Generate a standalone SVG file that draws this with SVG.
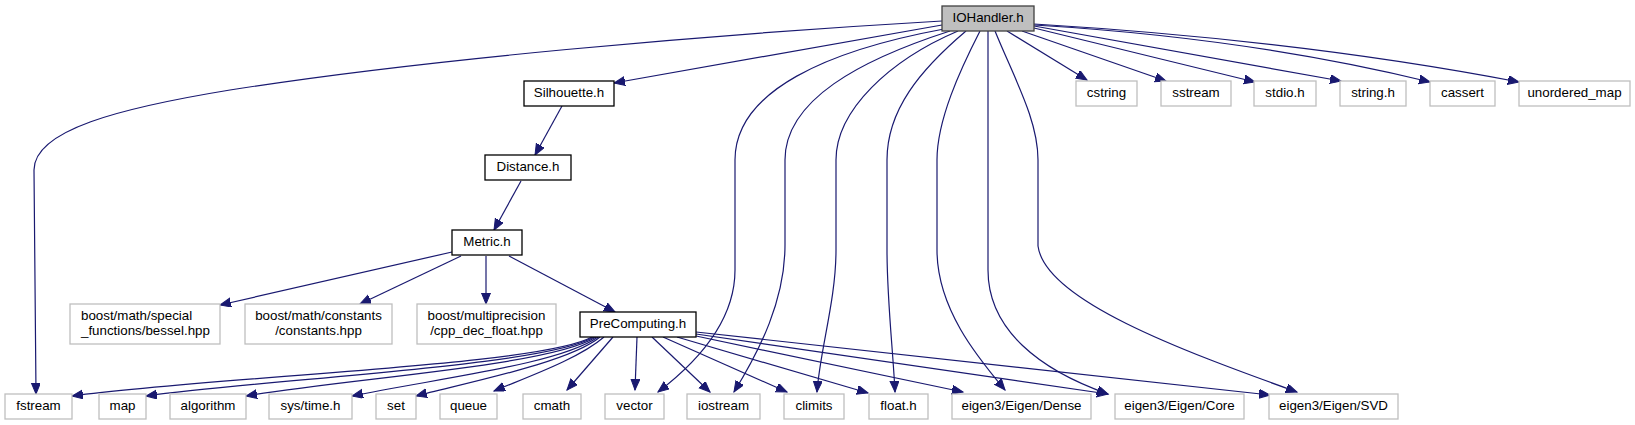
<svg xmlns="http://www.w3.org/2000/svg" width="1635" height="425" viewBox="0 0 1635 425">
<style>
text{font-family:"Liberation Sans",Arial,Helvetica,sans-serif;font-size:13.33px;fill:#000;text-anchor:middle}
.root rect{fill:#bfbfbf;stroke:#404040;stroke-width:1.3}
.int rect{fill:#fff;stroke:#000;stroke-width:1.3}
.ext rect{fill:#fff;stroke:#bfbfbf;stroke-width:1.3}
#edges path{fill:none;stroke:#191970;stroke-width:1.2;marker-end:url(#arr)}
</style>
<defs>
<marker id="arr" markerUnits="userSpaceOnUse" markerWidth="14" markerHeight="12" refX="11" refY="4.5" orient="auto">
<path d="M0,0 L11,4.5 L0,9 z" fill="#191970" stroke="#191970" stroke-width="1"/>
</marker>
</defs>
<rect x="0" y="0" width="1635" height="425" fill="#fff"/>
<g id="edges">
<path d="M942,25 L614,83"/>
<path d="M942,21 C700,35 420,60 230,90 C120,108 34,130 34,170 L36,394"/>
<path d="M1007,31 L1087,80"/>
<path d="M1022,31 L1166,81"/>
<path d="M1034,28 L1255,82"/>
<path d="M1034,26 L1341,81"/>
<path d="M1034,25 Q1250,38 1430,82"/>
<path d="M1034,24 Q1300,40 1519,82"/>
<path d="M944,29 C830,50 735,90 735,160 L735,270 C735,320 700,360 658,392"/>
<path d="M950,31 C860,60 785,100 785,160 L785,245 C785,300 760,350 734,392"/>
<path d="M958,31 C890,60 836,110 836,160 L836,250 C836,300 820,350 817,392"/>
<path d="M966,31 C920,70 887,110 887,160 L887,250 C887,300 893,350 895,392"/>
<path d="M980,31 C960,70 937,120 937,160 L937,250 C937,310 980,360 1005,390"/>
<path d="M988,31 L988,270 C988,330 1040,370 1108,394"/>
<path d="M995,31 C1015,80 1038,120 1038,160 L1038,246 C1045,300 1180,350 1297,392"/>
<path d="M562,106 L535,155"/>
<path d="M521,181 L494,230"/>
<path d="M452,252 L220,305"/>
<path d="M461,256 L360,304"/>
<path d="M486,256 L486,304"/>
<path d="M509,256 L615,312"/>
<path d="M592,337 C540,366 220,376 72,396"/>
<path d="M594,337 C545,366 280,378 146,396"/>
<path d="M596,337 C550,366 350,378 246,396"/>
<path d="M598,337 C560,364 440,378 352,396"/>
<path d="M600,337 C570,362 470,382 416,396"/>
<path d="M604,337 C580,358 530,376 494,391"/>
<path d="M613,337 L567,390"/>
<path d="M637,337 L635,390"/>
<path d="M652,337 L710,392"/>
<path d="M663,337 L787,392"/>
<path d="M677,337 L868,393"/>
<path d="M696,336 L963,392"/>
<path d="M696,334 L1108,394"/>
<path d="M696,332 L1270,395"/>
</g>
<g id="n_IOHandler" class="root"><rect x="942" y="6" width="92" height="25"/><text x="988" y="22">IOHandler.h</text></g>
<g id="n_Silhouette" class="int"><rect x="524" y="81" width="90" height="25"/><text x="569" y="97">Silhouette.h</text></g>
<g id="n_Distance" class="int"><rect x="485" y="155" width="86" height="25"/><text x="528" y="171">Distance.h</text></g>
<g id="n_Metric" class="int"><rect x="452" y="230" width="70" height="25"/><text x="487" y="246">Metric.h</text></g>
<g id="n_PreComputing" class="int"><rect x="580" y="312" width="116" height="25"/><text x="638" y="328">PreComputing.h</text></g>
<g id="n_cstring" class="ext"><rect x="1076" y="81" width="61" height="25"/><text x="1106.5" y="97">cstring</text></g>
<g id="n_sstream" class="ext"><rect x="1161" y="81" width="70" height="25"/><text x="1196" y="97">sstream</text></g>
<g id="n_stdio" class="ext"><rect x="1254" y="81" width="62" height="25"/><text x="1285" y="97">stdio.h</text></g>
<g id="n_string" class="ext"><rect x="1340" y="81" width="66" height="25"/><text x="1373" y="97">string.h</text></g>
<g id="n_cassert" class="ext"><rect x="1430" y="81" width="65" height="25"/><text x="1462.5" y="97">cassert</text></g>
<g id="n_unordered_map" class="ext"><rect x="1519" y="81" width="111" height="25"/><text x="1574.5" y="97">unordered_map</text></g>
<g id="n_bessel" class="ext"><rect x="70" y="304" width="150" height="40"/><text x="81" y="320" style="text-anchor:start">boost/math/special</text><text x="81" y="335" style="text-anchor:start">_functions/bessel.hpp</text></g>
<g id="n_constants" class="ext"><rect x="245" y="304" width="147" height="40"/><text x="318.5" y="320">boost/math/constants</text><text x="318.5" y="335">/constants.hpp</text></g>
<g id="n_multiprecision" class="ext"><rect x="417" y="304" width="139" height="40"/><text x="486.5" y="320">boost/multiprecision</text><text x="486.5" y="335">/cpp_dec_float.hpp</text></g>
<g id="n_fstream" class="ext"><rect x="5" y="394" width="67" height="25"/><text x="38.5" y="410">fstream</text></g>
<g id="n_map" class="ext"><rect x="99" y="394" width="47" height="25"/><text x="122.5" y="410">map</text></g>
<g id="n_algorithm" class="ext"><rect x="170" y="394" width="76" height="25"/><text x="208" y="410">algorithm</text></g>
<g id="n_systime" class="ext"><rect x="269" y="394" width="83" height="25"/><text x="310.5" y="410">sys/time.h</text></g>
<g id="n_set" class="ext"><rect x="376" y="394" width="40" height="25"/><text x="396" y="410">set</text></g>
<g id="n_queue" class="ext"><rect x="440" y="394" width="57" height="25"/><text x="468.5" y="410">queue</text></g>
<g id="n_cmath" class="ext"><rect x="523" y="394" width="58" height="25"/><text x="552" y="410">cmath</text></g>
<g id="n_vector" class="ext"><rect x="605" y="394" width="59" height="25"/><text x="634.5" y="410">vector</text></g>
<g id="n_iostream" class="ext"><rect x="687" y="394" width="73" height="25"/><text x="723.5" y="410">iostream</text></g>
<g id="n_climits" class="ext"><rect x="784" y="394" width="60" height="25"/><text x="814" y="410">climits</text></g>
<g id="n_float" class="ext"><rect x="869" y="394" width="59" height="25"/><text x="898.5" y="410">float.h</text></g>
<g id="n_dense" class="ext"><rect x="952" y="394" width="139" height="25"/><text x="1021.5" y="410">eigen3/Eigen/Dense</text></g>
<g id="n_core" class="ext"><rect x="1115" y="394" width="129" height="25"/><text x="1179.5" y="410">eigen3/Eigen/Core</text></g>
<g id="n_svd" class="ext"><rect x="1269" y="394" width="129" height="25"/><text x="1333.5" y="410">eigen3/Eigen/SVD</text></g>
</svg>
